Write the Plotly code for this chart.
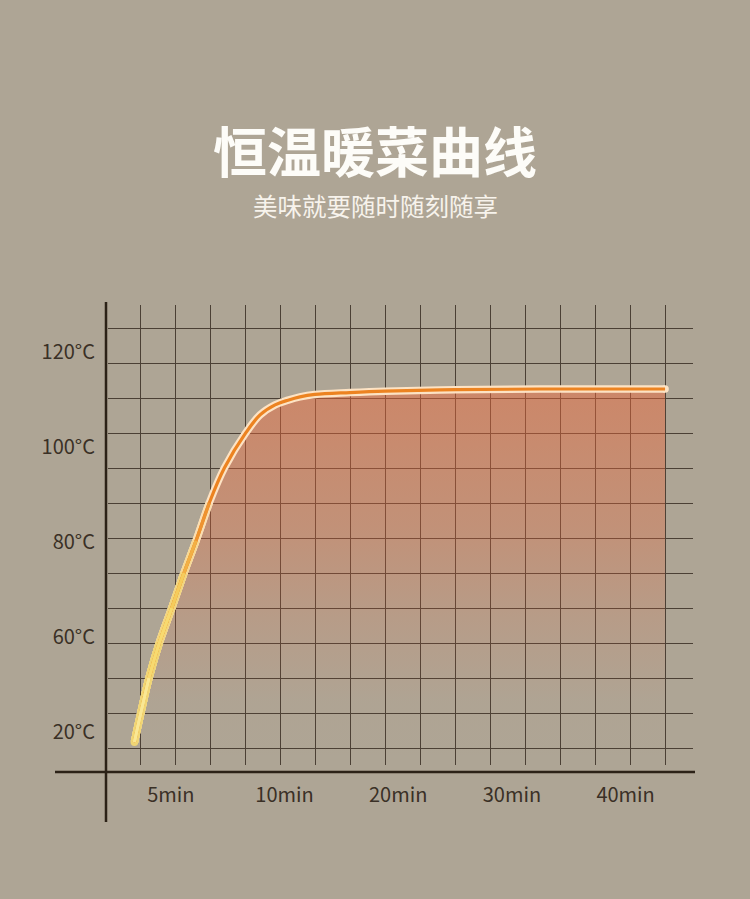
import plotly.graph_objects as go

# ---------------- data ----------------
title_text = "恒温暖菜曲线"
subtitle_text = "美味就要随时随刻随享"

time_labels = ["5min", "10min", "20min", "30min", "40min"]
time_label_pos = [1, 2, 3, 4, 5]

temp_labels = ["20°C", "60°C", "80°C", "100°C", "120°C"]
temp_label_pos = [40, 60, 80, 100, 120]

# curve: position on the time axis (label steps) and displayed temperature
curve_time = [0.680, 0.736, 0.808, 0.899, 1.008, 1.116, 1.222, 1.339, 1.471, 1.659,
              1.785, 1.917, 2.031, 2.136, 2.268, 2.576, 2.884, 3.500, 4.247, 5.347]
curve_temp = [37.8, 43.9, 51.3, 58.7, 66.0, 73.4, 80.2, 88.2, 95.5, 102.9,
              106.7, 108.8, 109.8, 110.5, 111.0, 111.4, 111.7, 112.0, 112.15, 112.15]

# ---------------- layout constants ----------------
W, H = 750, 899
BG = "#aea595"
GRID = "#4b4035"
AXIS = "#2c2217"
TXT = "#3a3026"
FONT = "Noto Sans CJK SC"

# plot-area pixel geometry
DX_L, DX_R = 108, 693
DY_T, DY_B = 305, 765
X0_PX, X_PPU = 57.1, 113.7       # pixel of x=0, pixels per x unit
Y80_PX, Y_PPU = 541.7, 4.75      # pixel of y=80, pixels per y unit
GRID_STEP = 35
GX_FIRST, GY_FIRST = 140.5, 328.3


def xv(px):
    return (px - X0_PX) / X_PPU


def yv(py):
    return 80 + (Y80_PX - py) / Y_PPU


XR = [xv(DX_L), xv(DX_R)]
YR = [yv(DY_B), yv(DY_T)]
xdom = [DX_L / W, DX_R / W]
ydom = [(H - DY_B) / H, (H - DY_T) / H]

n = len(curve_time)
# colour bands along the line: (number of leading points covered, colour)
outline_bands = [(n, "#fde3c4"), (8, "#fbdeb0"), (7, "#f7d994"), (6, "#f2d67e"), (4, "#efd574")]
core_bands = [(n, "#ec8321"), (8, "#ee9330"), (7, "#f2b045"), (6, "#f5cc5c"),
              (5, "#f7da70"), (3, "#f9e795")]

fig = go.Figure()

# gradient area under the curve
fill_rgb = "234,105,61"
fig.add_trace(go.Scatter(
    x=curve_time, y=curve_temp, mode="none", fill="tozeroy",
    line=dict(shape="spline", smoothing=1),
    fillgradient=dict(
        type="vertical",
        start=YR[0], stop=max(curve_temp),
        colorscale=[[0.0, "rgba(%s,0)" % fill_rgb],
                    [0.17, "rgba(%s,0.02)" % fill_rgb],
                    [0.39, "rgba(%s,0.15)" % fill_rgb],
                    [0.63, "rgba(%s,0.33)" % fill_rgb],
                    [1.0, "rgba(%s,0.50)" % fill_rgb]],
    ),
    hoverinfo="skip", showlegend=False,
))

# outline layers (longest first, shorter prefixes on top)
for k, col in outline_bands:
    fig.add_trace(go.Scatter(
        x=curve_time[:k], y=curve_temp[:k], mode="lines", xaxis="x2", yaxis="y2",
        line=dict(color=col, width=7.5, shape="spline", smoothing=1),
        hoverinfo="skip", showlegend=False,
    ))
# round ends
fig.add_trace(go.Scatter(
    x=[curve_time[0]], y=[curve_temp[0]], mode="markers", xaxis="x2", yaxis="y2",
    marker=dict(color=outline_bands[-1][1], size=7.5, line=dict(width=0)),
    hoverinfo="skip", showlegend=False,
))
fig.add_trace(go.Scatter(
    x=[curve_time[-1]], y=[curve_temp[-1]], mode="markers", xaxis="x2", yaxis="y2",
    marker=dict(color=outline_bands[0][1], size=7.5, line=dict(width=0)),
    hoverinfo="skip", showlegend=False,
))
# core layers
for k, col in core_bands:
    fig.add_trace(go.Scatter(
        x=curve_time[:k], y=curve_temp[:k], mode="lines", xaxis="x2", yaxis="y2",
        line=dict(color=col, width=3.2, shape="spline", smoothing=1),
        hoverinfo="skip", showlegend=False,
    ))

grid_axis = dict(showticklabels=False, ticks="", zeroline=False, showline=False,
                 showgrid=True, gridcolor=GRID, gridwidth=1, fixedrange=True,
                 tickmode="linear")

fig.update_layout(
    width=W, height=H,
    margin=dict(l=0, r=0, t=0, b=0),
    paper_bgcolor=BG, plot_bgcolor=BG,
    font=dict(family=FONT, color=TXT, size=20),
    showlegend=False,
    xaxis=dict(domain=xdom, range=XR, tick0=xv(GX_FIRST), dtick=GRID_STEP / X_PPU,
               anchor="y", **grid_axis),
    yaxis=dict(domain=ydom, range=YR, tick0=yv(GY_FIRST), dtick=GRID_STEP / Y_PPU,
               anchor="x", **grid_axis),
    xaxis2=dict(overlaying="x", anchor="y2", range=XR, showgrid=False, zeroline=False,
                showline=False, ticks="", tickmode="array", tickvals=time_label_pos,
                ticktext=time_labels, ticklabelstandoff=16, fixedrange=True,
                tickfont=dict(family=FONT, size=20, color=TXT)),
    yaxis2=dict(overlaying="y", anchor="x2", range=YR, showgrid=False, zeroline=False,
                showline=False, ticks="", tickmode="array", tickvals=temp_label_pos,
                ticktext=temp_labels, ticklabelstandoff=12, fixedrange=True,
                tickfont=dict(family=FONT, size=20, color=TXT)),
    shapes=[
        dict(type="line", xref="paper", yref="paper", x0=106 / W, x1=106 / W,
             y0=(H - 302) / H, y1=(H - 822) / H, line=dict(color=AXIS, width=2.5)),
        dict(type="line", xref="paper", yref="paper", x0=55 / W, x1=695 / W,
             y0=(H - 772) / H, y1=(H - 772) / H, line=dict(color=AXIS, width=2.5)),
    ],
    annotations=[
        dict(text=title_text, xref="paper", yref="paper", x=0.5, y=(H - 149) / H,
             xanchor="center", yanchor="middle", showarrow=False,
             font=dict(family=FONT, size=54, color="#fdfcf8", weight="bold")),
        dict(text=subtitle_text, xref="paper", yref="paper", x=0.5, y=(H - 206) / H,
             xanchor="center", yanchor="middle", showarrow=False,
             font=dict(family=FONT, size=24.5, color="#f7f3ec")),
    ],
)

fig.write_html(
    "out.html",
    config={"displayModeBar": False},
    post_script="document.body.style.margin='0';document.body.style.background='%s';" % BG,
)
